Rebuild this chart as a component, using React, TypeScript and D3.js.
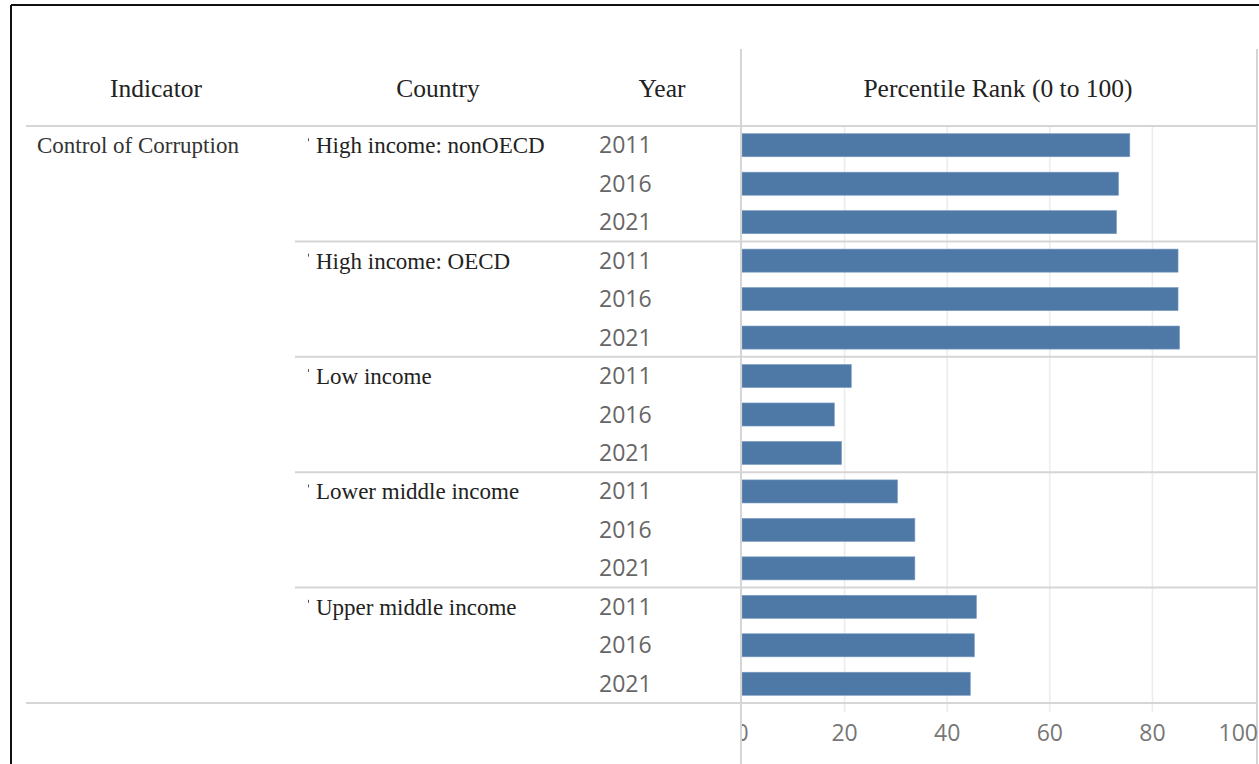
import React from "react";
import * as d3 from "d3";

const indicator = "Control of Corruption";
const countries = [
  "High income: nonOECD",
  "High income: OECD",
  "Low income",
  "Lower middle income",
  "Upper middle income",
];
const years = ["2011", "2016", "2021"];
const valuesHighNonOECD = [75.6, 73.4, 73.0];
const valuesHighOECD = [85.0, 85.0, 85.3];
const valuesLow = [21.3, 18.0, 19.4];
const valuesLowerMiddle = [30.3, 33.7, 33.7];
const valuesUpperMiddle = [45.7, 45.3, 44.5];
const seriesValues = [valuesHighNonOECD, valuesHighOECD, valuesLow, valuesLowerMiddle, valuesUpperMiddle];
const xTicks = [0, 20, 40, 60, 80, 100];
const headers = ["Indicator", "Country", "Year", "Percentile Rank (0 to 100)"];

type Row = { key: string; country: string; year: string; value: number; gi: number; yi: number };
const rows: Row[] = [];
countries.forEach((c, gi) =>
  years.forEach((yr, yi) =>
    rows.push({ key: `${gi}-${yi}`, country: c, year: yr, value: seriesValues[gi][yi], gi, yi })
  )
);

export default function App() {
  const W = 1259;
  const H = 764;
  const x = d3.scaleLinear().domain([0, 100]).range([742, 1255]);
  const y = d3
    .scaleBand<string>()
    .domain(rows.map((r) => r.key))
    .range([126, 703])
    .paddingInner(0.4)
    .paddingOuter(0.2);
  const step = y.step();
  const serif = "'Liberation Serif', 'Times New Roman', serif";
  const sans = "'Open Sans', 'Lato', sans-serif";
  const lineColor = "#d5d5d5";
  const gridColor = "#ececec";
  const headerX = [156, 438, 662, 998];

  return (
    <svg
      width={W}
      height={H}
      style={{ position: "absolute", left: 0, top: 0, background: "#fff" }}
    >
      <defs>
        <clipPath id="paneClip">
          <rect x={742} y={0} width={1258 - 742} height={H} />
        </clipPath>
      </defs>
      {/* outer black frame */}
      <line x1={11} y1={5} x2={W} y2={5} stroke="#111" strokeWidth={2} />
      <line x1={11} y1={5} x2={11} y2={H} stroke="#111" strokeWidth={2} />

      {/* grid lines */}
      {xTicks
        .filter((t) => t > 0 && t < 100)
        .map((t) => (
          <line key={"g" + t} x1={x(t)} x2={x(t)} y1={126} y2={712} stroke={gridColor} strokeWidth={1.5} />
        ))}

      {/* bars */}
      {rows.map((r) => (
        <rect
          key={"b" + r.key}
          x={x(0)}
          y={y(r.key)!}
          width={x(r.value) - x(0)}
          height={y.bandwidth()}
          fill="#4e79a7"
          stroke="#7a9cc4"
          strokeWidth={0.6}
        />
      ))}

      {/* header separator */}
      <line x1={26} x2={1257} y1={126} y2={126} stroke={lineColor} strokeWidth={2} />
      {/* group separators */}
      {countries.slice(1).map((c, i) => {
        const yy = 126 + step * 3 * (i + 1);
        return <line key={"s" + i} x1={295} x2={1257} y1={yy} y2={yy} stroke={lineColor} strokeWidth={2} />;
      })}
      {/* bottom line */}
      <line x1={26} x2={1257} y1={703} y2={703} stroke={lineColor} strokeWidth={2} />

      {/* vertical lines */}
      <line x1={741} x2={741} y1={49} y2={H} stroke={lineColor} strokeWidth={2} />
      <line x1={1257} x2={1257} y1={49} y2={H} stroke={lineColor} strokeWidth={2} />

      {/* headers */}
      {headers.map((h, i) => (
        <text
          key={"h" + i}
          x={headerX[i]}
          y={97}
          textAnchor="middle"
          fontFamily={serif}
          fontSize={25.5}
          fill="#222"
        >
          {h}
        </text>
      ))}

      {/* indicator */}
      <text x={37} y={153} fontFamily={serif} fontSize={23} fill="#333">
        {indicator}
      </text>

      {/* country labels */}
      {countries.map((c, gi) => {
        const yy = y(`${gi}-0`)! + y.bandwidth() / 2;
        return (
          <g key={"c" + gi}>
            <line x1={308.5} x2={308.5} y1={yy - 7} y2={yy - 4} stroke="#555" strokeWidth={1} />
            <text x={316} y={yy + 8} fontFamily={serif} fontSize={23} fill="#222">
              {c}
            </text>
          </g>
        );
      })}

      {/* years */}
      {rows.map((r) => (
        <text
          key={"y" + r.key}
          x={599}
          y={y(r.key)! + y.bandwidth() / 2 + 8}
          fontFamily={sans}
          fontSize={23}
          fill="#666"
        >
          {r.year}
        </text>
      ))}

      {/* axis */}
      <g clipPath="url(#paneClip)">
        {xTicks.map((t, i) => (
          <text
            key={"t" + t}
            x={i === xTicks.length - 1 ? x(t) + 3 : x(t)}
            y={741}
            textAnchor={i === xTicks.length - 1 ? "end" : "middle"}
            fontFamily={sans}
            fontSize={23}
            fill="#777"
          >
            {t}
          </text>
        ))}
      </g>
    </svg>
  );
}
